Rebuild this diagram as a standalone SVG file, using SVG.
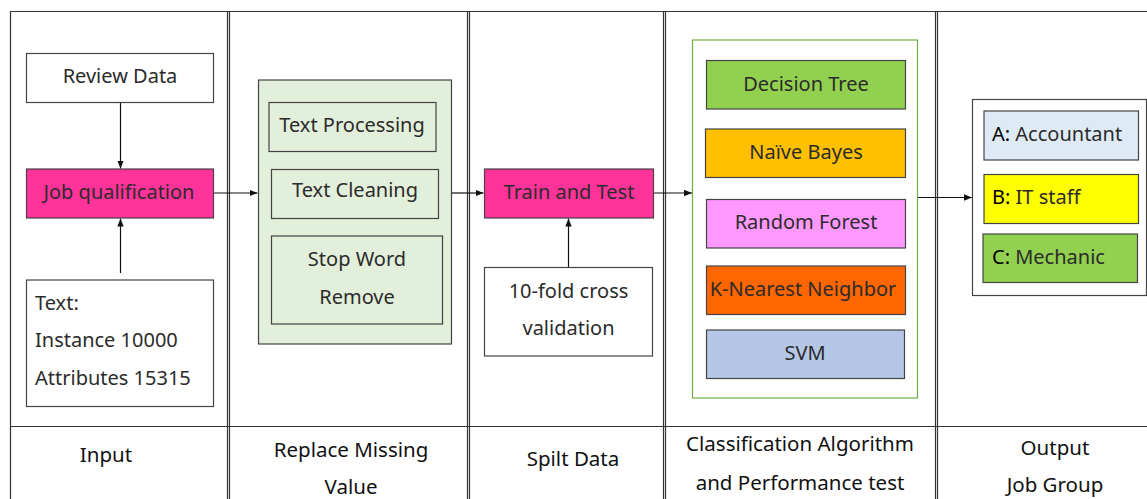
<svg xmlns="http://www.w3.org/2000/svg" width="1147" height="499" viewBox="0 0 1147 499">
<style>
text{font-family:"Noto Sans","Open Sans","DejaVu Sans",sans-serif;font-size:20px;fill:#2b2b2b}
.c{text-anchor:middle}
.grid{stroke:#333;stroke-width:1.2;fill:none}
.box{stroke:#444;stroke-width:1.2}
.conn{stroke:#111;stroke-width:1.2;fill:none}
.lbl{font-size:20.5px;fill:#111}
</style>
<defs>
<marker id="ah" markerUnits="userSpaceOnUse" markerWidth="8" markerHeight="8" refX="8" refY="4" orient="auto">
<path d="M0,0.8 L8,4 L0,7.2 Z" fill="#111"/>
</marker>
</defs>
<rect width="1147" height="499" fill="#fff"/>
<g id="table">
<line class="grid" x1="10" y1="11.5" x2="1147" y2="11.5"/>
<line class="grid" x1="10" y1="426.5" x2="1147" y2="426.5"/>
<line class="grid" x1="10.5" y1="11.5" x2="10.5" y2="499"/>
<line class="grid" x1="227.5" y1="11.5" x2="227.5" y2="499"/>
<line class="grid" x1="229.5" y1="11.5" x2="229.5" y2="499"/>
<line class="grid" x1="467.5" y1="11.5" x2="467.5" y2="499"/>
<line class="grid" x1="469.5" y1="11.5" x2="469.5" y2="499"/>
<line class="grid" x1="663.5" y1="11.5" x2="663.5" y2="499"/>
<line class="grid" x1="665.5" y1="11.5" x2="665.5" y2="499"/>
<line class="grid" x1="935.5" y1="11.5" x2="935.5" y2="499"/>
<line class="grid" x1="937.5" y1="11.5" x2="937.5" y2="499"/>
<text class="c lbl" x="106" y="462">Input</text>
<text class="c lbl" x="351" y="457">Replace Missing</text>
<text class="c lbl" x="351" y="494">Value</text>
<text class="c lbl" x="573" y="466">Spilt Data</text>
<text class="c lbl" x="800" y="451">Classification Algorithm</text>
<text class="c lbl" x="800" y="490">and Performance test</text>
<text class="c lbl" x="1055" y="455">Output</text>
<text class="c lbl" x="1055" y="492">Job Group</text>
</g>
<g id="connectors">
<line class="conn" x1="120.5" y1="102.5" x2="120.5" y2="168.5" marker-end="url(#ah)"/>
<line class="conn" x1="120.5" y1="273" x2="120.5" y2="218.5" marker-end="url(#ah)"/>
<line class="conn" x1="213.5" y1="193" x2="257.5" y2="193" marker-end="url(#ah)"/>
<line class="conn" x1="452" y1="193" x2="483.5" y2="193" marker-end="url(#ah)"/>
<line class="conn" x1="568.5" y1="267" x2="568.5" y2="218.5" marker-end="url(#ah)"/>
<line class="conn" x1="653.5" y1="193" x2="692" y2="193" marker-end="url(#ah)"/>
<line class="conn" x1="918" y1="197.5" x2="972" y2="197.5" marker-end="url(#ah)"/>
</g>
<g id="review-data">
<rect class="box" x="26.5" y="53.5" width="187" height="49" fill="#fff"/>
<text class="c" x="120" y="83">Review Data</text>
</g>
<g id="job-qualification">
<rect class="box" x="26.5" y="169" width="187" height="49" fill="#FF3399"/>
<text class="c" x="119" y="199">Job qualification</text>
</g>
<g id="text-info">
<rect class="box" x="26.5" y="280" width="187" height="126.5" fill="#fff"/>
<text x="35" y="310">Text:</text>
<text x="35" y="347">Instance 10000</text>
<text x="35" y="385">Attributes 15315</text>
</g>
<g id="replace-missing">
<rect class="box" x="258.5" y="80" width="193" height="264" fill="#E2EFDA"/>
</g>
<g id="text-processing">
<rect class="box" x="269" y="102.5" width="167" height="49" fill="#E2EFDA"/>
<text class="c" x="352" y="132">Text Processing</text>
</g>
<g id="text-cleaning">
<rect class="box" x="271.5" y="169.5" width="167" height="49" fill="#E2EFDA"/>
<text class="c" x="355" y="197">Text Cleaning</text>
</g>
<g id="stop-word">
<rect class="box" x="271.5" y="236" width="171" height="88" fill="#E2EFDA"/>
<text class="c" x="357" y="266">Stop Word</text>
<text class="c" x="357" y="304">Remove</text>
</g>
<g id="train-test">
<rect class="box" x="484.5" y="169" width="169" height="49" fill="#FF3399"/>
<text class="c" x="569" y="199">Train and Test</text>
</g>
<g id="cross-validation">
<rect class="box" x="484.5" y="267.5" width="168" height="88.5" fill="#fff"/>
<text class="c" x="568.5" y="298">10-fold cross</text>
<text class="c" x="568.5" y="335">validation</text>
</g>
<g id="algorithms">
<rect x="692.5" y="40" width="225" height="358" fill="#fff" stroke="#70AD47" stroke-width="1.2"/>
</g>
<g id="decision-tree">
<rect class="box" x="706.5" y="60.5" width="199" height="48.5" fill="#92D050"/>
<text class="c" x="806" y="91">Decision Tree</text>
</g>
<g id="naive-bayes">
<rect class="box" x="705.5" y="129" width="200" height="48.5" fill="#FFC000"/>
<text class="c" x="806" y="159">Naïve Bayes</text>
</g>
<g id="random-forest">
<rect class="box" x="706.5" y="199.5" width="199" height="48.5" fill="#FF99FF"/>
<text class="c" x="806" y="229">Random Forest</text>
</g>
<g id="knn">
<rect class="box" x="706.5" y="266" width="199" height="48.5" fill="#FF6600"/>
<text class="c" x="803" y="296">K-Nearest Neighbor</text>
</g>
<g id="svm">
<rect class="box" x="706.5" y="330" width="198" height="48.5" fill="#B4C7E7"/>
<text class="c" x="805" y="360">SVM</text>
</g>
<g id="job-group">
<rect class="box" x="972.5" y="99.5" width="174" height="196" fill="#fff"/>
</g>
<g id="accountant">
<rect class="box" x="984" y="111" width="154.5" height="49" fill="#DEEBF7"/>
<text x="992" y="141"><tspan fill="#000">A:</tspan> Accountant</text>
</g>
<g id="it-staff">
<rect class="box" x="984" y="174.5" width="154.5" height="49" fill="#FFFF00"/>
<text x="992" y="204"><tspan fill="#000">B:</tspan> IT staff</text>
</g>
<g id="mechanic">
<rect class="box" x="983" y="234" width="154.5" height="48.5" fill="#92D050"/>
<text x="992" y="264"><tspan fill="#000">C:</tspan> Mechanic</text>
</g>
</svg>
